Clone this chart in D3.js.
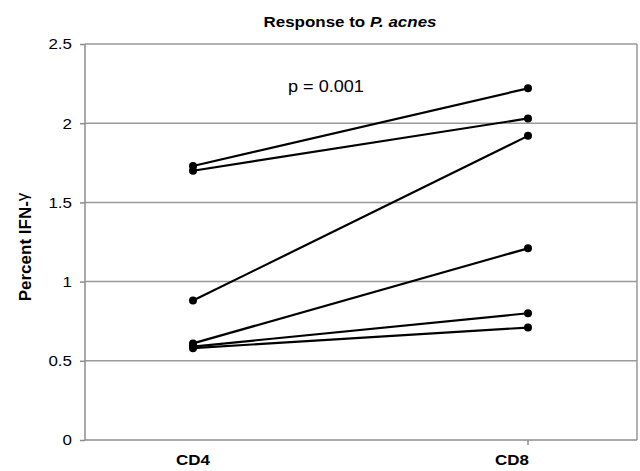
<!DOCTYPE html>
<html>
<head>
<meta charset="utf-8">
<script src="https://cdn.jsdelivr.net/npm/d3@7"></script>
<style>
  body { margin: 0; background: #fff; }
  text { font-family: "Liberation Sans", Arial, sans-serif; fill: #000; }
</style>
</head>
<body>
<div id="main-chart"></div>
<script>
const categories = ["CD4", "CD8"];
const cd4Values = [1.73, 1.7, 0.88, 0.61, 0.59, 0.58];
const cd8Values = [2.22, 2.03, 1.92, 1.21, 0.8, 0.71];
const yTicks = [0, 0.5, 1, 1.5, 2, 2.5];
const yTickLabels = ["0", "0.5", "1", "1.5", "2", "2.5"];

const width = 640;
const height = 471;
const margin = { left: 85, right: 3, top: 44, bottom: 31 };
const stretch = 1.13; // the source picture is a bit wider than tall

const svg = d3
  .select("#main-chart")
  .append("svg")
  .attr("width", width)
  .attr("height", height);

const xScale = d3.scalePoint().domain(categories).range([193, 528]);

const yScale = d3
  .scaleLinear()
  .domain([0, 2.5])
  .range([height - margin.bottom, margin.top]);

// gridlines and plot border
const yAxis = d3
  .axisLeft(yScale)
  .tickValues(yTicks)
  .tickFormat((d, i) => yTickLabels[i])
  .tickSize(5)
  .tickPadding(8);

svg
  .append("g")
  .attr("class", "grid")
  .selectAll("line")
  .data(yTicks.filter((d) => d > 0))
  .join("line")
  .attr("x1", margin.left)
  .attr("x2", width - margin.right)
  .attr("y1", (d) => yScale(d))
  .attr("y2", (d) => yScale(d))
  .attr("stroke", "#999")
  .attr("stroke-width", 1.5);

svg
  .append("line")
  .attr("x1", width - margin.right)
  .attr("x2", width - margin.right)
  .attr("y1", margin.top)
  .attr("y2", height - margin.bottom)
  .attr("stroke", "#999")
  .attr("stroke-width", 1.5);

const yAxisG = svg
  .append("g")
  .attr("transform", `translate(${margin.left}, 0)`)
  .call(yAxis);

yAxisG.selectAll("line, path").attr("stroke", "#8c8c8c").attr("stroke-width", 1.5);
yAxisG.select(".domain").attr("d", `M0,${margin.top}V${height - margin.bottom}`);
yAxisG
  .selectAll(".tick text")
  .attr("font-size", 15)
  .attr("font-family", "Liberation Sans, Arial, sans-serif")
  .attr("fill", "#000")
  .attr("x", null)
  .attr("transform", `translate(-13, 0) scale(${stretch}, 1)`);

// x axis
svg
  .append("line")
  .attr("x1", margin.left)
  .attr("x2", width - margin.right)
  .attr("y1", yScale(0))
  .attr("y2", yScale(0))
  .attr("stroke", "#8c8c8c")
  .attr("stroke-width", 1.5);

svg
  .append("line")
  .attr("x1", xScale("CD8"))
  .attr("x2", xScale("CD8"))
  .attr("y1", yScale(0))
  .attr("y2", yScale(0) + 5)
  .attr("stroke", "#8c8c8c")
  .attr("stroke-width", 1.5);

svg
  .selectAll(".x-label")
  .data(categories)
  .join("text")
  .attr("class", "x-label")
  .attr("text-anchor", "middle")
  .attr("font-weight", "bold")
  .attr("font-size", 15)
  .attr(
    "transform",
    (d, i) => `translate(${xScale(d) - (i === 1 ? 16 : 0)}, 465) scale(${stretch}, 1)`
  )
  .text((d) => d);

// paired lines
const pairs = cd4Values.map((v, i) => [v, cd8Values[i]]);

svg
  .append("g")
  .selectAll("line")
  .data(pairs)
  .join("line")
  .attr("x1", xScale("CD4"))
  .attr("x2", xScale("CD8"))
  .attr("y1", (d) => yScale(d[0]))
  .attr("y2", (d) => yScale(d[1]))
  .attr("stroke", "#000")
  .attr("stroke-width", 2.2);

svg
  .append("g")
  .selectAll("circle")
  .data(pairs.flatMap((d) => [["CD4", d[0]], ["CD8", d[1]]]))
  .join("circle")
  .attr("cx", (d) => xScale(d[0]))
  .attr("cy", (d) => yScale(d[1]))
  .attr("r", 4)
  .attr("fill", "#000");

// title
const title = svg
  .append("text")
  .attr("text-anchor", "middle")
  .attr("font-weight", "bold")
  .attr("font-size", 15)
  .attr("transform", `translate(350, 27) scale(${stretch}, 1)`);
title.append("tspan").text("Response to ");
title.append("tspan").attr("font-style", "italic").text("P. acnes");

// p value
svg
  .append("text")
  .attr("font-size", 16)
  .attr("transform", `translate(288, 92) scale(${stretch}, 1)`)
  .text("p = 0.001");

// y label
const yLabel = svg
  .append("text")
  .attr("text-anchor", "middle")
  .attr("font-weight", "bold")
  .attr("font-size", 17)
  .attr("transform", `translate(31, 247) rotate(-90)`);
yLabel.append("tspan").text("Percent IFN-");
yLabel.append("tspan").attr("font-weight", "normal").attr("dy", -3).text("γ");
</script>
</body>
</html>
